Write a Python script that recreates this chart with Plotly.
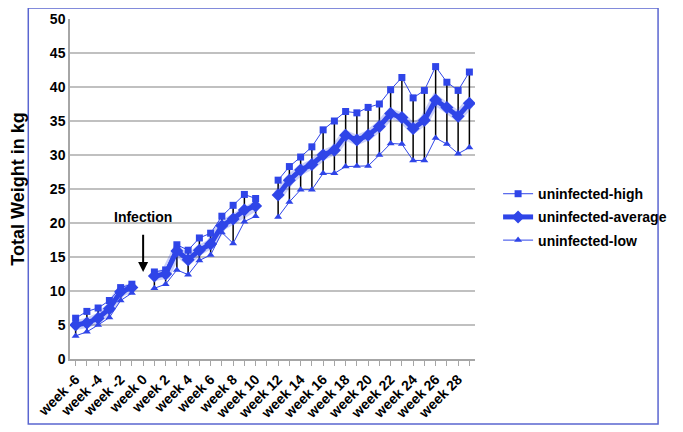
import plotly.graph_objects as go

weeks = list(range(-6, 30))
tick_weeks = list(range(-6, 29, 2))
tick_labels = [f"week {w}" for w in tick_weeks]

# None = no measurement (week 0 = infection, week 11 skipped)
high = [6.0, 7.0, 7.5, 8.6, 10.5, 11.0, None,
        12.8, 13.1, 16.8, 16.0, 17.8, 18.5, 21.0, 22.6, 24.2, 23.6, None,
        26.3, 28.3, 29.7, 31.2, 33.7, 35.0, 36.4, 36.2, 37.0, 37.5,
        39.6, 41.4, 38.4, 39.5, 43.0, 40.7, 39.5, 42.2]
average = [5.0, 5.3, 6.0, 7.4, 9.9, 10.5, None,
           12.2, 12.5, 15.9, 14.6, 16.0, 16.9, 19.6, 20.6, 21.9, 22.5, None,
           24.1, 26.3, 27.8, 28.6, 30.0, 30.7, 32.9, 32.2, 32.9, 34.2,
           36.1, 35.5, 33.9, 35.1, 38.1, 37.0, 35.7, 37.6]
low = [3.4, 4.0, 5.0, 6.1, 8.6, 9.7, None,
       10.4, 11.0, 13.1, 12.4, 14.5, 15.3, 18.6, 17.0, 20.2, 21.0, None,
       20.9, 23.1, 24.9, 24.9, 27.3, 27.3, 28.3, 28.4, 28.4, 30.0,
       31.7, 31.6, 29.2, 29.2, 32.5, 31.6, 30.2, 31.1]

BLUE = "#2f45e8"
FONT = "Liberation Sans, Arial, sans-serif"

# high-low connector lines
hl_x, hl_y = [], []
for w, lo, hi in zip(weeks, low, high):
    if lo is None:
        continue
    hl_x += [w, w, None]
    hl_y += [lo, hi, None]

fig = go.Figure()

fig.add_trace(go.Scatter(x=hl_x, y=hl_y, mode='lines',
                         line=dict(color='black', width=1.5),
                         showlegend=False, hoverinfo='skip'))

# soft glow under the average line
fig.add_trace(go.Scatter(x=weeks, y=average, mode='lines',
                         line=dict(color='rgba(47,69,232,0.25)', width=10),
                         showlegend=False, hoverinfo='skip'))

fig.add_trace(go.Scatter(x=weeks, y=high, mode='lines+markers', name='uninfected-high',
                         line=dict(color=BLUE, width=1),
                         marker=dict(symbol='square', size=7, color=BLUE),
                         legendgroup='a'))
fig.add_trace(go.Scatter(x=weeks, y=average, mode='lines+markers', name='uninfected-average',
                         line=dict(color=BLUE, width=5),
                         marker=dict(symbol='diamond', size=10, color=BLUE),
                         legendgroup='b'))
fig.add_trace(go.Scatter(x=weeks, y=low, mode='lines+markers', name='uninfected-low',
                         line=dict(color=BLUE, width=1),
                         marker=dict(symbol='triangle-up', size=7, color=BLUE),
                         legendgroup='c'))

fig.add_annotation(x=0, y=20.9, text="Infection", showarrow=False,
                   font=dict(family=FONT, size=14, color='black', weight='bold'))
fig.add_annotation(x=0, y=12.8, ax=0, ay=18.5, axref='x', ayref='y', text="",
                   showarrow=True, arrowhead=2, arrowsize=1, arrowwidth=2, arrowcolor='black')

# outer frame
fig.add_shape(type='rect', xref='paper', yref='paper',
              x0=-0.103, x1=1.452, y0=-0.191, y1=1.032,
              line=dict(color='#5a66d0', width=1.5))

# page body has an 8px margin, so the figure is 8px smaller than the window
fig.update_layout(
    width=675, height=424,
    margin=dict(l=62, r=195, t=11, b=73),
    paper_bgcolor='white', plot_bgcolor='white',
    font=dict(family=FONT, color='black'),
    legend=dict(x=1.057, y=0.532, xanchor='left', yanchor='top',
                font=dict(family=FONT, size=14, weight='bold'),
                tracegroupgap=2, bgcolor='rgba(0,0,0,0)'),
    xaxis=dict(range=[-6.5, 29.5], tickvals=tick_weeks, ticktext=tick_labels,
               tickangle=-45, showgrid=False, showline=True, linecolor='#a6a6a6',
               linewidth=1.5, ticks='outside', ticklen=5, tickcolor='#a6a6a6',
               minor=dict(tickvals=weeks, ticks='outside', ticklen=5, tickcolor='#a6a6a6'),
               tickfont=dict(family=FONT, size=14, weight='bold'), zeroline=False,
               automargin=False),
    yaxis=dict(range=[0, 50], dtick=5, showgrid=True, gridcolor='#c0c0c0', gridwidth=1.5,
               showline=True, linecolor='#a6a6a6', linewidth=1.5, zeroline=False,
               tickfont=dict(family=FONT, size=14, weight='bold'), automargin=False,
               title=dict(text='Total Weight in kg', standoff=24,
                          font=dict(family=FONT, size=18, weight='bold'))),
)

fig.write_html("out.html")
